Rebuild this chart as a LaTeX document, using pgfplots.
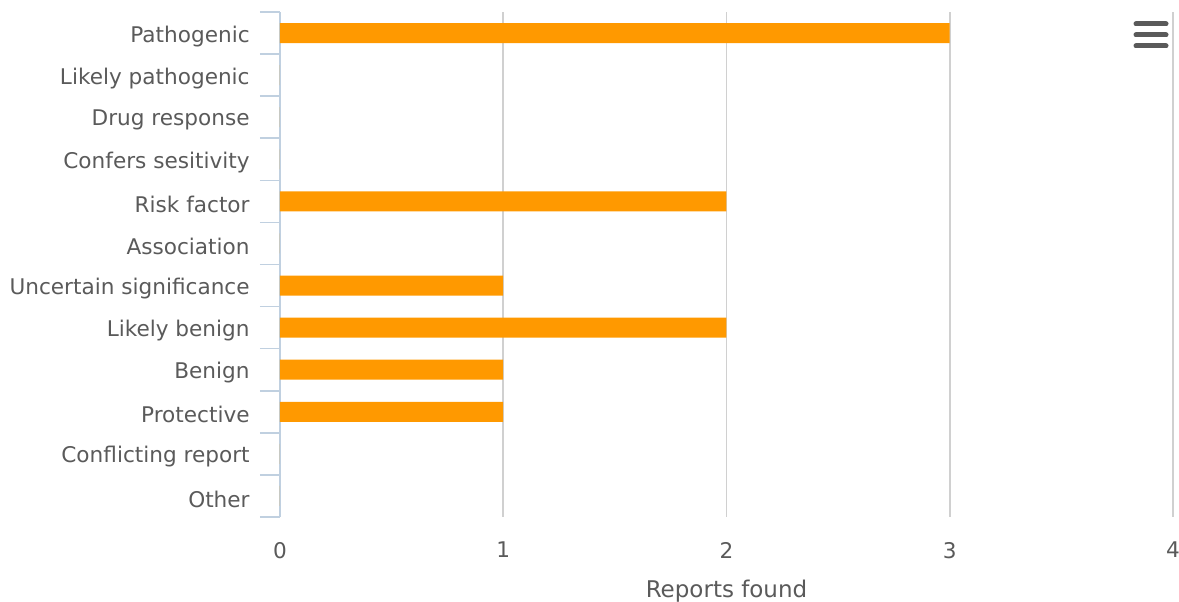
\documentclass[border=0pt]{standalone}
\usepackage{pgfplots}
\pgfplotsset{compat=1.18}
\usepackage{fontspec}
\setmainfont{DejaVu Sans}
\definecolor{barorange}{HTML}{FF9900}
\definecolor{axblue}{HTML}{C0D0E0}
\definecolor{gridgray}{HTML}{D0D0D0}
\definecolor{txtgray}{HTML}{5A5A5A}
\begin{document}
\begin{tikzpicture}
\begin{axis}[
  scale only axis,
  width=446.5pt, height=252.5pt,
  xbar, bar width=10pt,
  y dir=reverse,
  xmin=0, xmax=4,
  ymin=-0.5, ymax=11.5,
  xtick={0,1,2,3,4},
  ytick={0,...,11},
  yticklabels={Pathogenic,Likely pathogenic,Drug response,Confers sesitivity,Risk factor,Association,Uncertain significance,Likely benign,Benign,Protective,Conflicting report,Other},
  minor ytick={-0.5,0.5,...,11.5},
  axis lines=left,
  axis line style={-},
  x axis line style={draw=none},
  y axis line style={draw=axblue, line width=0.8pt},
  major tick length=0pt,
  minor tick length=10pt,
  tick align=outside,
  minor tick style={draw=axblue, line width=0.8pt},
  xmajorgrids,
  major grid style={draw=gridgray, line width=0.8pt},
  tick label style={font=\fontsize{10.8}{13}\selectfont, text=txtgray},
  yticklabel style={xshift=-15pt, yshift=-1.5pt, inner sep=0pt},
  xticklabel style={yshift=-9pt},
  xlabel={Reports found},
  xlabel style={font=\fontsize{11.5}{14}\selectfont, text=txtgray, yshift=-4pt},
  /pgf/number format/assume math mode=true,
]
\addplot[fill=barorange, draw=none] coordinates {
(3,0) (0,1) (0,2) (0,3) (2,4) (0,5) (1,6) (2,7) (1,8) (1,9) (0,10) (0,11)
};
\end{axis}
\draw[line width=2.5pt, line cap=round, draw=txtgray] (428pt,246.5pt) -- (443pt,246.5pt);
\draw[line width=2.5pt, line cap=round, draw=txtgray] (428pt,241pt) -- (443pt,241pt);
\draw[line width=2.5pt, line cap=round, draw=txtgray] (428pt,235.5pt) -- (443pt,235.5pt);
\pgfresetboundingbox
\useasboundingbox (-140pt,-42pt) rectangle (449.5pt,258.5pt);
\end{tikzpicture}
\end{document}
